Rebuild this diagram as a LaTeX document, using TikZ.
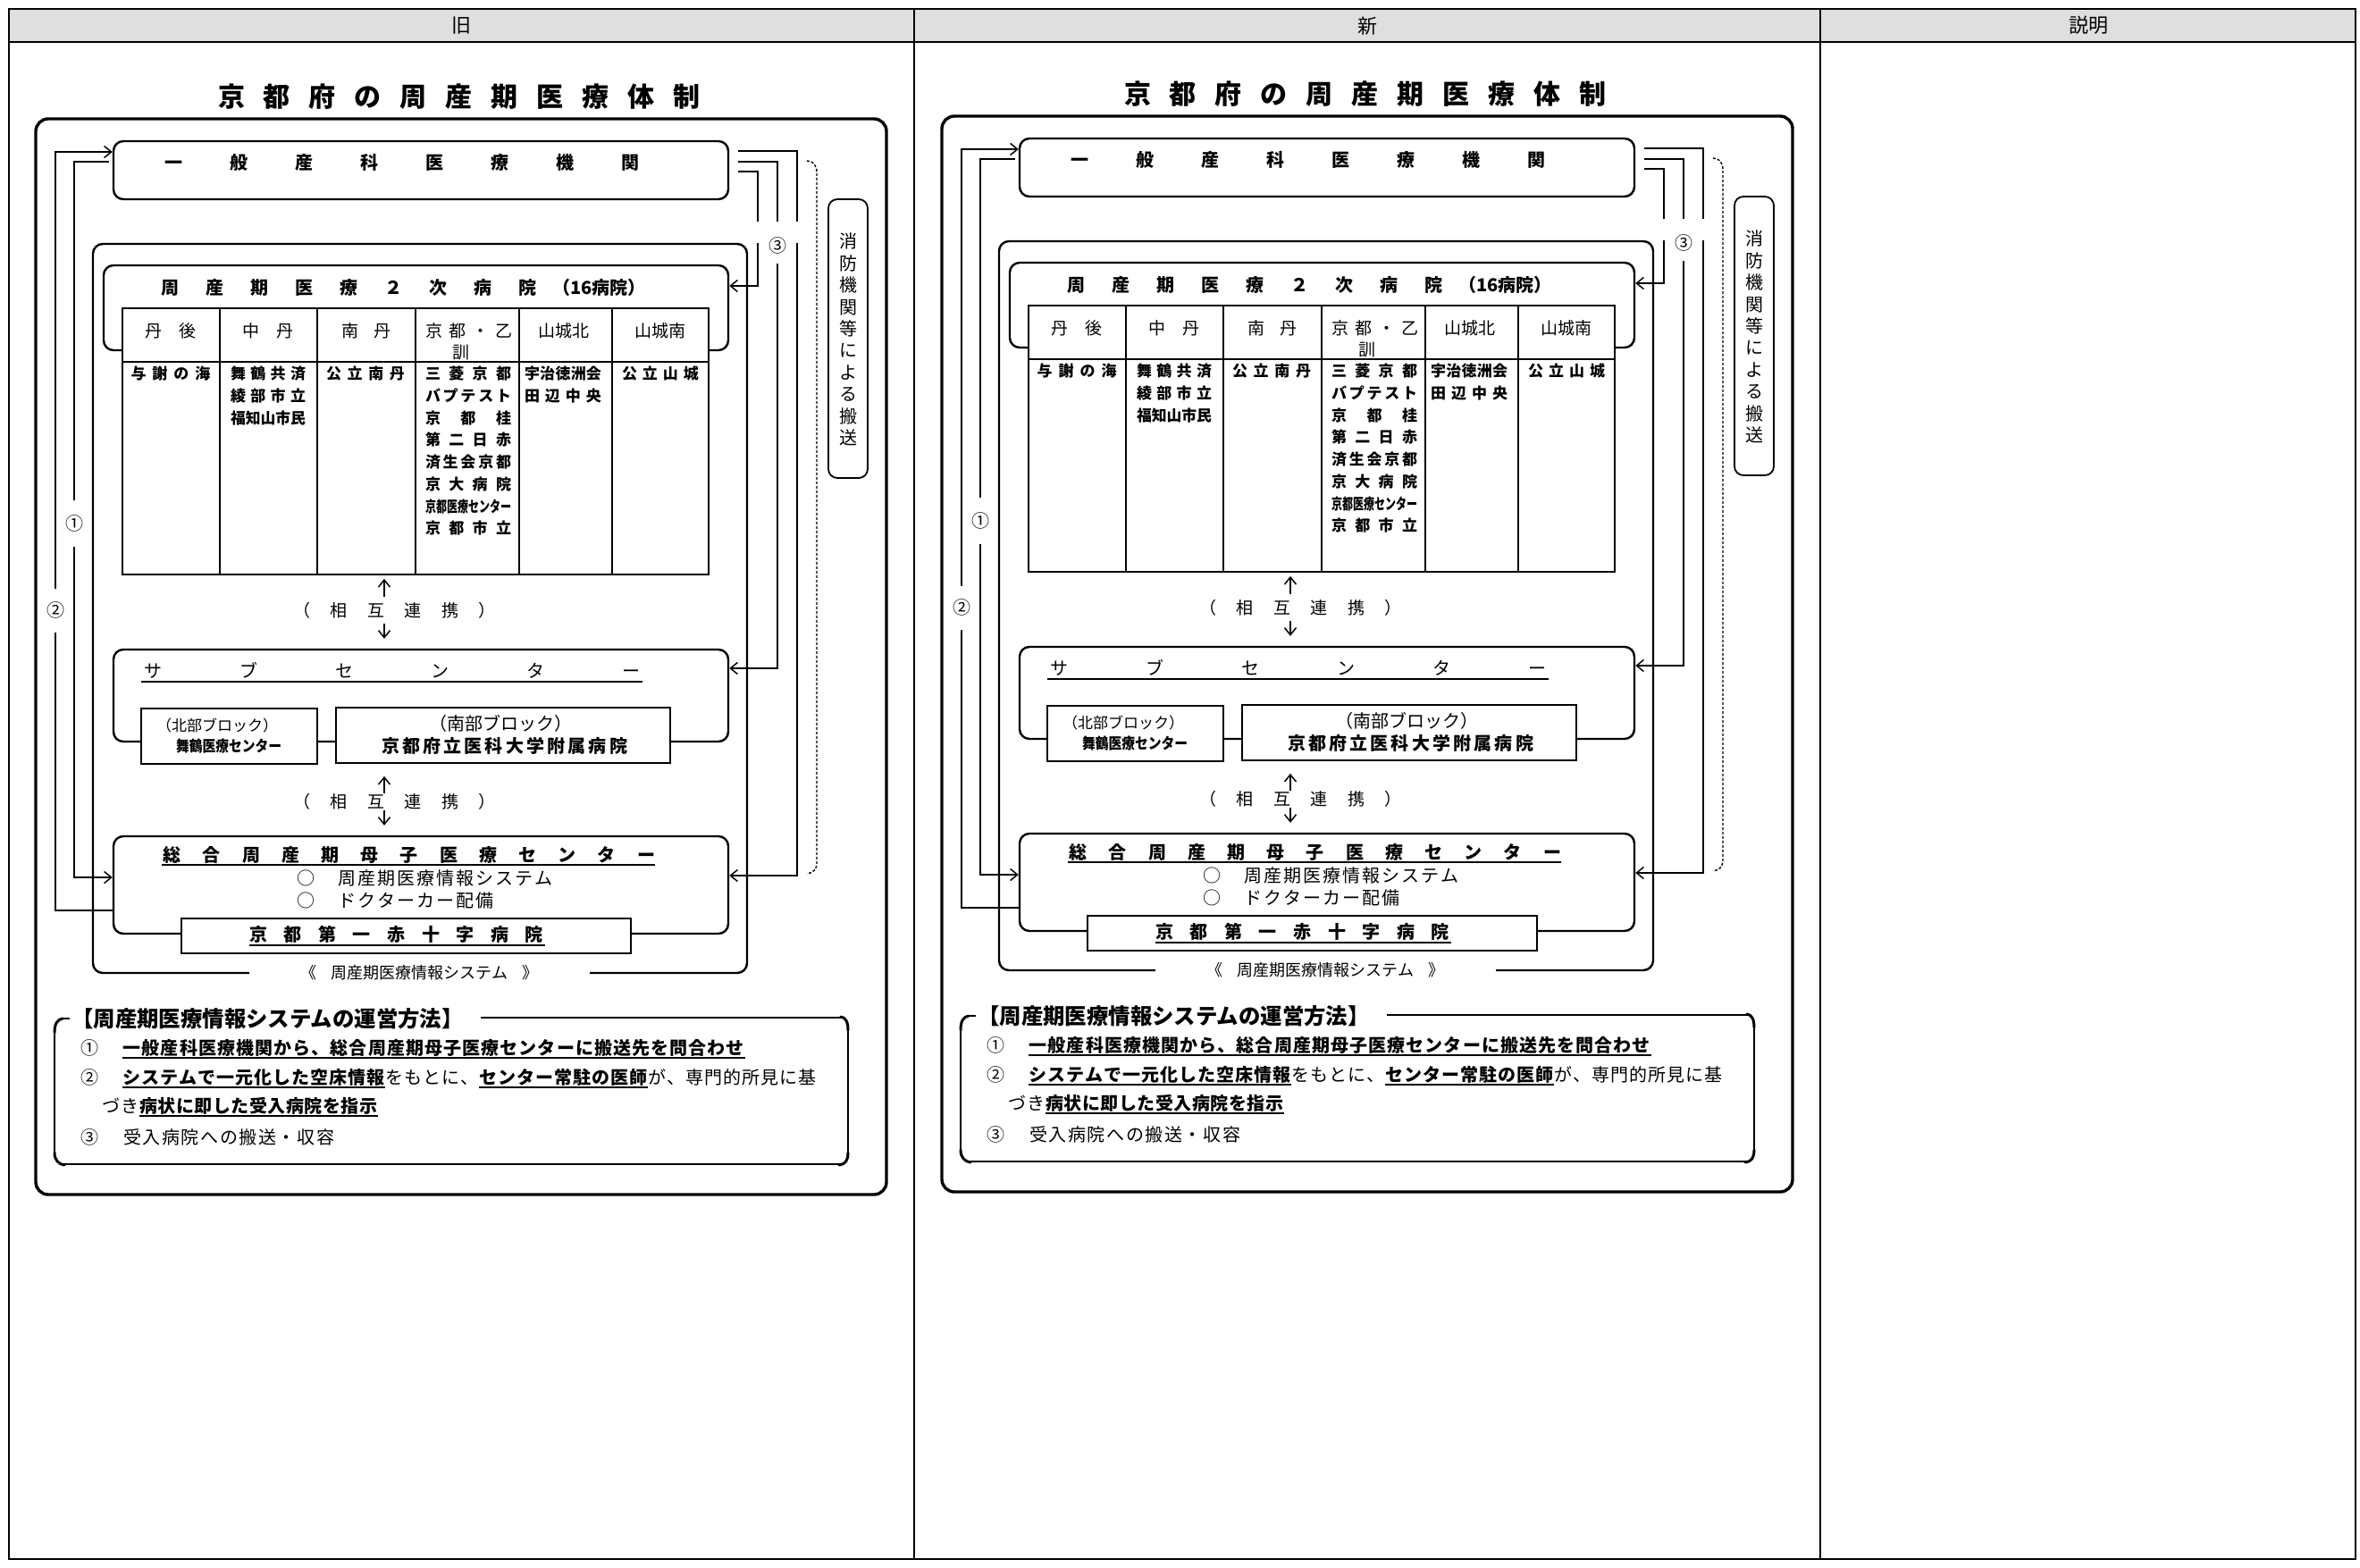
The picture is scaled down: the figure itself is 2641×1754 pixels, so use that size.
\documentclass[tikz,border=0pt]{standalone}
\usepackage{fontspec}
\usepackage{graphicx}
\setmainfont{Noto Sans CJK JP}
\usetikzlibrary{arrows.meta,calc}
\def\PTend{\PTend}
\def\PTloop#1{\ifx\PTend#1\else\makebox[\PTw]{#1}\expandafter\PTloop\fi}
\newcommand\PT[2]{\def\PTw{#1}\PTloop#2\PTend}
\def\SPloop#1{\ifx\PTend#1\else\hfil#1\expandafter\SPloop\fi}
\def\SPfirst#1{#1\SPloop}
\newcommand\SP[2]{\makebox[#1][s]{\SPfirst#2\PTend}}
\newcommand\FT[2]{\resizebox{#1}{\height}{#2}}
\newcommand\CT[2]{\setbox2=\hbox{#2}\ifdim\wd2>#1\relax\FT{#1}{#2}\else\SP{#1}{#2}\fi}
\newcommand\ulx[1]{\setbox0=\hbox{#1}\rlap{\rule[-5pt]{\wd0}{1.7pt}}\box0}
\newcommand\fsz[1]{\fontsize{#1pt}{#1pt}\selectfont}
\tikzset{
  rbox/.style={draw, line width=2.4pt, rounded corners=11pt, inner sep=0pt, fill=white},
  sqbox/.style={draw, line width=1.7pt, inner sep=0pt, fill=white},
  txt/.style={inner sep=0pt},
  cell/.style={inner sep=0pt, font=\bfseries\fsz{17}},
  conn/.style={line width=1.5pt},
  arr/.style={line width=1.5pt, -{Straight Barb[length=8pt,width=13pt,line width=1.5pt]}},
  gline/.style={line width=1.6pt},
  pline/.style={line width=1.8pt},
  dashline/.style={line width=1.4pt, dash pattern=on 3pt off 2pt},
  curl/.style={line width=3pt, line cap=round},
}
\newcommand\diag[1]{%
\node[rbox, fill=none, line width=3.4pt, rounded corners=14pt, minimum width=952pt, minimum height=1204pt] (#1outer) at (516,735) {};
\node[txt, font=\bfseries\fsz{30}] (#1title) at (514,108) {\PT{51pt}{京都府の周産期医療体制}};
\node[rbox, fill=none, minimum width=732pt, minimum height=816pt] (#1frame) at (470,681) {};
\node[rbox, minimum width=688pt, minimum height=65pt] (#1ippan) at (471,190.5) {};
\node[txt, font=\bfseries\fsz{20}] (#1ippant) at (450,182) {\PT{73pt}{一般産科医療機関}};
\node[rbox, minimum width=699pt, minimum height=95pt] (#1hosp) at (465.5,344.5) {};
\node[txt, font=\bfseries\fsz{20}, anchor=west] (#1hospt) at (165,322) {\PT{50pt}{周産期医療２次病院}\hspace{3pt}（16病院）};
\node[sqbox, minimum width=656pt, minimum height=298pt] (#1tbl) at (465,494) {};
\draw[gline] (#1tbl.west|-0,405) -- (#1tbl.east|-0,405);
\foreach \cx in {246,355,465,581,685} {\draw[gline] (\cx,345) -- (\cx,643);}
\node[txt, font=\fsz{19}] (#1ha) at (191,370) {\PT{38pt}{丹後}};
\node[txt, font=\fsz{19}] (#1hb) at (300,370) {\PT{38pt}{中丹}};
\node[txt, font=\fsz{19}] (#1hc) at (410,370) {\PT{36pt}{南丹}};
\node[txt, font=\fsz{19}] (#1hd) at (525,370) {\PT{26pt}{京都・乙}};
\node[txt, font=\fsz{19}] (#1hdd) at (516,395) {訓};
\node[txt, font=\fsz{19}] (#1he) at (631,370) {山城北};
\node[txt, font=\fsz{19}] (#1hf) at (739,370) {山城南};
\node[cell] (#1ca1) at (191,418) {\CT{89pt}{与謝の海}};
\node[cell] (#1cb1) at (300,418) {\CT{84pt}{舞鶴共済}};
\node[cell] (#1cb2) at (300,443) {\CT{84pt}{綾部市立}};
\node[cell] (#1cb3) at (300,468) {\CT{84pt}{福知山市民}};
\node[cell] (#1cc1) at (409,418) {\CT{88pt}{公立南丹}};
\node[cell] (#1cd1) at (524,418) {\CT{96pt}{三菱京都}};
\node[cell] (#1cd2) at (524,443) {\CT{96pt}{バプテスト}};
\node[cell] (#1cd3) at (524,468) {\CT{96pt}{京都桂}};
\node[cell] (#1cd4) at (524,492) {\CT{96pt}{第二日赤}};
\node[cell] (#1cd5) at (524,517) {\CT{96pt}{済生会京都}};
\node[cell] (#1cd6) at (524,542) {\CT{96pt}{京大病院}};
\node[cell] (#1cd7) at (524,567) {\CT{96pt}{京都医療センター}};
\node[cell] (#1cd8) at (524,591) {\CT{96pt}{京都市立}};
\node[cell] (#1ce1) at (630,418) {\CT{86pt}{宇治徳洲会}};
\node[cell] (#1ce2) at (630,443) {\CT{86pt}{田辺中央}};
\node[cell] (#1cf1) at (739,418) {\CT{86pt}{公立山城}};
\node[txt, font=\fsz{19}] (#1mut1) at (441.5,683) {\PT{41.4pt}{（相互連携）}};
\node[rbox, minimum width=688pt, minimum height=103pt] (#1sub) at (471,778.5) {};
\node[txt, font=\fsz{20}] (#1subt) at (438.5,750) {\PT{107pt}{サブセンター}};
\draw[gline] (158,763) -- (719,763);
\node[sqbox, line width=1.6pt, minimum width=197pt, minimum height=62pt] (#1north) at (256.5,824) {};
\node[txt, font=\fsz{17}] (#1northa) at (243,812) {（北部ブロック）};
\node[txt, font=\bfseries\fsz{17}] (#1northb) at (256,835) {\FT{118pt}{舞鶴医療センター}};
\node[sqbox, line width=1.6pt, minimum width=374pt, minimum height=62pt] (#1south) at (563,823) {};
\node[txt, font=\fsz{20}] (#1southa) at (560,810) {（南部ブロック）};
\node[txt, font=\bfseries\fsz{20}] (#1southb) at (564.5,835) {\CT{275pt}{京都府立医科大学附属病院}};
\node[txt, font=\fsz{19}] (#1mut2) at (441.5,897) {\PT{41.4pt}{（相互連携）}};
\node[rbox, minimum width=688pt, minimum height=109pt] (#1cent) at (471,990.5) {};
\node[txt, font=\bfseries\fsz{20}] (#1centt) at (458,957) {\PT{44.2pt}{総合周産期母子医療センター}};
\draw[gline] (181,968) -- (733,968);
\node[txt, font=\fsz{20}, anchor=west] (#1centa) at (331,983) {\makebox[22pt]{○}\hspace{25pt}\SP{240pt}{周産期医療情報システム}};
\node[txt, font=\fsz{20}, anchor=west] (#1centb) at (331,1008) {\makebox[22pt]{○}\hspace{25pt}\SP{174pt}{ドクターカー配備}};
\node[sqbox, minimum width=503pt, minimum height=39pt] (#1redx) at (454.5,1047.5) {};
\node[txt, font=\bfseries\fsz{20}] (#1redxt) at (443.5,1046) {\PT{38.6pt}{京都第一赤十字病院}};
\draw[gline] (279,1058) -- (610,1058);
\node[txt, fill=white, minimum width=381pt, minimum height=12pt, font=\fsz{18}] (#1sys) at (469.5,1089) {《\hspace{16pt}周産期医療情報システム\hspace{16pt}》};
\node[rbox, line width=1.8pt, rounded corners=10pt, minimum width=44pt, minimum height=312pt] (#1fire) at (949,379) {};
\node[txt, font={\fontsize{20pt}{24.4pt}\selectfont}, align=center] (#1firet) at (949,380) {消\\防\\機\\関\\等\\に\\よ\\る\\搬\\送};
\draw[arr] (#1cent.west|-0,1019) -| (62,170) -- (#1ippan.west|-0,170);
\draw[arr, shorten <=4pt] (#1ippan.west|-0,181) -| (83,982) -- (#1cent.west|-0,982);
\node[txt, fill=white, minimum height=49pt, minimum width=22pt, font=\fsz{20}] (#1n2) at (62,683) {②};
\node[txt, fill=white, minimum height=52pt, minimum width=22pt, font=\fsz{20}] (#1n1) at (83,586) {①};
\draw[conn, shorten <=10pt] (#1ippan.east|-0,169) -| (892,248);
\draw[arr] (892,272) |- (#1cent.east|-0,980);
\draw[conn, shorten <=10pt] (#1ippan.east|-0,181) -| (870,248);
\draw[arr] (870,295) |- (#1sub.east|-0,748);
\draw[conn, shorten <=10pt] (#1ippan.east|-0,192) -| (848,248);
\draw[arr] (848,272) |- (#1hosp.east|-0,320);
\node[txt, font=\fsz{20}] (#1n3) at (870,275) {③};
\draw[arr, shorten >=4pt] (430,668) -- (#1tbl.south-|430,0);
\draw[arr, shorten >=11pt] (430,698) -- (#1sub.north-|430,0);
\draw[arr, shorten >=14pt] (430,888) -- (#1south.south-|430,0);
\draw[arr, shorten >=11pt] (430,907) -- (#1cent.north-|430,0);
\draw[dashline] (903,180) .. controls (910,180) and (914,185) .. (914,193) -- (914,966) .. controls (914,973) and (910,977) .. (903,978);
\draw[conn] (68,1140) -- (78,1140);
\draw[conn] (538,1139) -- (942,1139);
\draw[conn] (61,1152) -- (61,1294);
\draw[conn] (949,1150) -- (949,1294);
\draw[conn] (70,1303) -- (942,1303);
\draw[curl] (61,1156) .. controls (61,1146) and (64,1141) .. (70,1140);
\draw[curl] (941,1138) .. controls (946,1139) and (949,1143) .. (949,1153);
\draw[curl] (949,1290) .. controls (949,1299) and (946,1303) .. (939,1304);
\draw[curl] (72,1304) .. controls (66,1303) and (61,1299) .. (61,1290);
\node[txt, font=\bfseries\fsz{24.4}, anchor=west] (#1opst) at (80,1140) {【周産期医療情報システムの運営方法】};
\node[txt, font=\fsz{20}, anchor=west] (#1op1) at (90,1174) {\makebox[47pt][l]{①}{\bfseries\ulx{\PT{21.1pt}{一般産科医療機関から、総合周産期母子医療センターに搬送先を問合わせ}}}};
\node[txt, font=\fsz{20}, anchor=west] (#1op2) at (90,1207) {\makebox[47pt][l]{②}{\bfseries\ulx{\PT{21pt}{システムで一元化した空床情報}}}\PT{21pt}{をもとに、}{\bfseries\ulx{\PT{21pt}{センター常駐の医師}}}\PT{21pt}{が、専門的所見に基}};
\node[txt, font=\fsz{20}, anchor=west] (#1op3) at (114,1239) {\PT{21pt}{づき}{\bfseries\ulx{\PT{20.5pt}{病状に即した受入病院を指示}}}};
\node[txt, font=\fsz{20}, anchor=west] (#1op4) at (90,1273) {\makebox[47pt][l]{③}\PT{21.6pt}{受入病院への搬送・収容}};
}
\begin{document}
\begin{tikzpicture}[x=1pt,y=-1pt]
\useasboundingbox (0,0) rectangle (2641,1754);
\fill[white] (0,0) rectangle (2641,1754);
\fill[gray!25] (10,10) rectangle (2636,47);
\draw[pline] (10,10) rectangle (2636,1745);
\draw[pline] (10,47) -- (2636,47);
\draw[pline] (1023,10) -- (1023,1745);
\draw[pline] (2037,10) -- (2037,1745);
\node[txt, font=\fsz{22}] (hold) at (516,29) {旧};
\node[txt, font=\fsz{22}] (hnew) at (1530,29) {新};
\node[txt, font=\fsz{22}] (hexp) at (2337,28) {説明};
\begin{scope}
\diag{L}
\end{scope}
\begin{scope}[shift={(1014,-3)}]
\diag{N}
\end{scope}
\end{tikzpicture}
\end{document}
